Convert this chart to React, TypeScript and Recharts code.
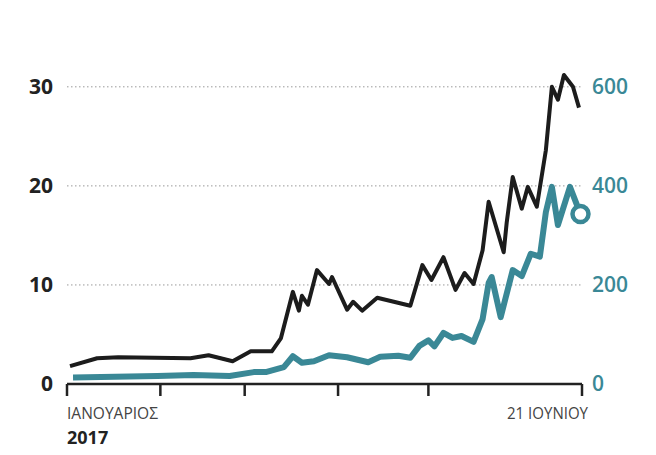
import React from "react";
import { LineChart, Line, XAxis, YAxis, CartesianGrid } from "recharts";

// days counted from 1 January 2017
const monthTicks = [0, 31, 59, 90, 120, 171];
const leftTicks = [0, 10, 20, 30];
const gridValues = [10, 20, 30];
const rightTicks = [0, 200, 400, 600];

const blackDays = [1, 10, 17, 41, 47, 55, 61, 68, 71, 75, 77, 78, 80, 83, 87, 88, 93, 95, 98, 103, 114, 118, 121, 125, 129, 132, 135, 138, 140, 145, 146, 148, 151, 153, 156, 159, 161, 163, 165, 168, 170];
const blackValues = [1.8, 2.6, 2.7, 2.6, 2.9, 2.3, 3.3, 3.3, 4.6, 9.3, 7.4, 8.9, 8.0, 11.5, 10.1, 10.8, 7.5, 8.3, 7.4, 8.7, 7.9, 12.0, 10.5, 12.8, 9.5, 11.2, 10.1, 13.5, 18.4, 13.3, 16.3, 20.9, 17.7, 19.9, 17.9, 23.6, 30.0, 28.7, 31.2, 30.0, 27.9];

const tealDays = [2, 30, 42, 54, 62, 66, 72, 75, 78, 82, 87, 93, 100, 104, 110, 114, 117, 120, 122, 125, 128, 131, 135, 138, 140, 141, 144, 148, 151, 154, 157, 159, 161, 163, 167, 170.5];
const tealValues = [13, 16, 18, 16, 24, 24, 34, 56, 43, 46, 58, 54, 44, 55, 57, 53, 77, 88, 76, 103, 93, 97, 85, 131, 204, 216, 135, 230, 218, 263, 257, 347, 398, 321, 398, 343];

const blackData = blackDays.map((d, i) => ({ day: d, black: blackValues[i] }));
const tealData = tealDays.map((d, i) => ({ day: d, teal: tealValues[i] }));

const TEAL = "#3a8896";
const FONT = "'Open Sans', 'Noto Sans', sans-serif";

const LeftTick = (props: any) => {
    const { x, y, payload } = props;
    return (
        <text x={x} y={y} dy="0.35em" textAnchor="end" fill="#222" fontFamily={FONT} fontWeight={700} fontSize={21}>
            {payload.value}
        </text>
    );
};

const RightTick = (props: any) => {
    const { x, y, payload } = props;
    return (
        <text x={x} y={y} dy="0.35em" textAnchor="start" fill={TEAL} fontFamily={FONT} fontWeight={600} fontSize={21}>
            {payload.value}
        </text>
    );
};

const BottomTick = (props: any) => {
    const { x, payload } = props;
    if (payload.value === 0) {
        return (
            <g>
                <text x={x} y={419} fill="#444" fontFamily={FONT} fontSize={16} textLength={91} lengthAdjust="spacingAndGlyphs">
                    ΙΑΝΟΥΑΡΙΟΣ
                </text>
                <text x={x} y={444} fill="#222" fontFamily={FONT} fontWeight={700} fontSize={18}>
                    2017
                </text>
            </g>
        );
    }
    if (payload.value === 171) {
        return (
            <text x={x + 6} y={419} textAnchor="end" fill="#444" fontFamily={FONT} fontSize={16} textLength={81} lengthAdjust="spacingAndGlyphs">
                21 ΙΟΥΝΙΟΥ
            </text>
        );
    }
    return <g />;
};

const EndDot = (props: any) => {
    const { cx, cy, index } = props;
    if (index !== tealData.length - 1) return <g key={index} />;
    return <circle key={index} cx={cx} cy={cy} r={8} fill="#fff" stroke={TEAL} strokeWidth={4.5} />;
};

export default function App() {
    return (
        <div style={{ position: "absolute", left: 0, top: 0, background: "#fff" }}>
            <LineChart width={656} height={455} margin={{ top: 67, right: 0, left: 0, bottom: 41 }}>
                <CartesianGrid
                    vertical={false}
                    yAxisId="left"
                    horizontalValues={gridValues}
                    stroke="#999"
                    strokeDasharray="1.5 2.5"
                />
                <XAxis
                    type="number"
                    dataKey="day"
                    domain={[0, 171]}
                    ticks={monthTicks}
                    height={30}
                    tickSize={12}
                    axisLine={{ stroke: "#222", strokeWidth: 2.5 }}
                    tickLine={{ stroke: "#222", strokeWidth: 2.5 }}
                    tick={<BottomTick />}
                    interval={0}
                />
                <YAxis
                    yAxisId="left"
                    domain={[0, 32]}
                    ticks={leftTicks}
                    width={67}
                    axisLine={false}
                    tickLine={false}
                    tickSize={0}
                    tickMargin={14}
                    tick={<LeftTick />}
                    interval={0}
                />
                <YAxis
                    yAxisId="right"
                    orientation="right"
                    domain={[0, 640]}
                    ticks={rightTicks}
                    width={74}
                    axisLine={false}
                    tickLine={false}
                    tickSize={0}
                    tickMargin={10}
                    tick={<RightTick />}
                    interval={0}
                />
                <Line
                    yAxisId="right"
                    data={tealData}
                    dataKey="teal"
                    type="linear"
                    stroke={TEAL}
                    strokeWidth={6}
                    strokeLinejoin="round"
                    dot={EndDot}
                    activeDot={false}
                    isAnimationActive={false}
                />
                <Line
                    yAxisId="left"
                    data={blackData}
                    dataKey="black"
                    type="linear"
                    stroke="#1c1c1c"
                    strokeWidth={4}
                    strokeLinejoin="round"
                    dot={false}
                    activeDot={false}
                    isAnimationActive={false}
                />
            </LineChart>
        </div>
    );
}
